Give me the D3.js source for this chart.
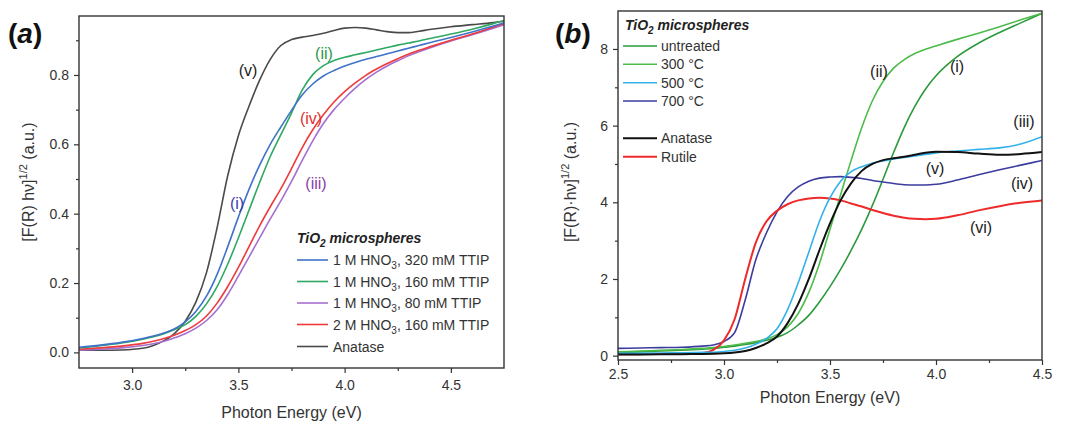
<!DOCTYPE html>
<html><head><meta charset="utf-8">
<script src="https://cdn.jsdelivr.net/npm/d3@7"></script>
<style>body{margin:0;background:#fff}svg{display:block;font-family:"Liberation Sans",Arial,sans-serif}</style>
</head><body><svg id="c" width="1069" height="423"></svg>
<script>
// ---------- Panel (a) data ----------
const energyA = [2.75,2.85,2.95,3.05,3.1,3.15,3.2,3.25,3.3,3.35,3.4,3.45,3.5,3.55,3.6,3.65,3.7,3.75,3.8,3.85,3.9,3.95,4.0,4.05,4.1,4.15,4.2,4.25,4.3,4.35,4.4,4.5,4.6,4.7,4.75];
const a_1M_320 = [0.015,0.021,0.029,0.04,0.047,0.056,0.068,0.088,0.118,0.162,0.225,0.305,0.39,0.47,0.54,0.6,0.65,0.698,0.742,0.774,0.797,0.813,0.826,0.836,0.845,0.853,0.861,0.869,0.877,0.885,0.893,0.908,0.924,0.941,0.95];
const a_1M_160 = [0.013,0.019,0.027,0.038,0.045,0.054,0.066,0.08,0.104,0.14,0.19,0.255,0.33,0.41,0.49,0.565,0.628,0.69,0.756,0.801,0.827,0.842,0.851,0.858,0.865,0.872,0.879,0.886,0.892,0.898,0.905,0.918,0.932,0.948,0.957];
const a_1M_80 = [0.006,0.009,0.013,0.02,0.025,0.032,0.042,0.054,0.07,0.092,0.123,0.167,0.22,0.275,0.33,0.385,0.437,0.493,0.553,0.61,0.66,0.7,0.733,0.762,0.787,0.808,0.826,0.841,0.855,0.867,0.878,0.898,0.916,0.935,0.945];
const a_2M_160 = [0.009,0.013,0.018,0.026,0.032,0.04,0.05,0.063,0.08,0.105,0.142,0.19,0.245,0.305,0.365,0.42,0.472,0.53,0.59,0.642,0.685,0.722,0.752,0.777,0.799,0.817,0.833,0.847,0.86,0.871,0.881,0.9,0.918,0.938,0.948];
const a_anatase = [0.006,0.006,0.007,0.012,0.02,0.034,0.055,0.09,0.145,0.23,0.36,0.51,0.625,0.71,0.785,0.845,0.885,0.902,0.909,0.914,0.92,0.928,0.935,0.937,0.935,0.93,0.925,0.922,0.922,0.926,0.931,0.939,0.945,0.951,0.955];
const legendA = ["1 M HNO|3|, 320 mM TTIP","1 M HNO|3|, 160 mM TTIP","1 M HNO|3|, 80 mM TTIP","2 M HNO|3|, 160 mM TTIP","Anatase"];
const xTicksA = [3.0,3.5,4.0,4.5];
const yTicksA = [0.0,0.2,0.4,0.6,0.8];
const labelsA = ["(i)","(ii)","(iii)","(iv)","(v)"];

// ---------- Panel (b) data ----------
const energyB = [2.5,2.6,2.7,2.8,2.9,2.95,3.0,3.05,3.1,3.15,3.2,3.25,3.3,3.35,3.4,3.45,3.5,3.55,3.6,3.65,3.7,3.75,3.8,3.85,3.9,3.95,4.0,4.1,4.2,4.3,4.4,4.5];
const b_untreated = [0.08,0.1,0.12,0.14,0.17,0.19,0.22,0.25,0.29,0.34,0.4,0.48,0.6,0.8,1.05,1.4,1.8,2.25,2.75,3.3,3.92,4.6,5.3,5.95,6.5,6.95,7.3,7.8,8.15,8.43,8.68,8.93];
const b_300 = [0.1,0.12,0.14,0.16,0.19,0.21,0.24,0.28,0.32,0.37,0.44,0.55,0.75,1.1,1.65,2.4,3.3,4.2,5.1,5.95,6.65,7.15,7.5,7.72,7.88,7.99,8.08,8.25,8.41,8.58,8.76,8.93];
const b_500 = [0.06,0.065,0.07,0.075,0.085,0.09,0.11,0.14,0.2,0.3,0.45,0.7,1.2,1.9,2.7,3.5,4.12,4.55,4.8,4.93,5.02,5.08,5.13,5.17,5.21,5.25,5.29,5.34,5.38,5.42,5.52,5.71];
const b_700 = [0.19,0.2,0.21,0.22,0.25,0.28,0.37,0.6,1.45,2.5,3.2,3.75,4.15,4.4,4.55,4.63,4.66,4.67,4.65,4.62,4.57,4.53,4.49,4.46,4.45,4.45,4.47,4.58,4.72,4.85,4.97,5.09];
const b_anatase = [0.03,0.03,0.035,0.04,0.045,0.05,0.06,0.08,0.12,0.2,0.32,0.5,0.85,1.35,2.0,2.75,3.45,4.05,4.5,4.82,5.0,5.1,5.15,5.19,5.24,5.29,5.32,5.31,5.27,5.24,5.26,5.31];
const b_rutile = [0.04,0.04,0.045,0.05,0.07,0.15,0.4,0.95,2.0,2.95,3.5,3.78,3.95,4.05,4.1,4.12,4.1,4.05,3.97,3.89,3.8,3.72,3.65,3.6,3.57,3.56,3.57,3.66,3.79,3.9,3.99,4.05];
const legendB = ["untreated","300 °C","500 °C","700 °C","Anatase","Rutile"];
const xTicksB = [2.5,3.0,3.5,4.0,4.5];
const yTicksB = [0,2,4,6,8];
const labelsB = ["(i)","(ii)","(iii)","(iv)","(v)","(vi)"];

const svg = d3.select("#c");
const FONT = '"Liberation Sans",Arial,sans-serif';

function addRich(textSel, str, subSize){
  const parts = str.split("|");
  parts.forEach((p,i)=>{
    if(!p) return;
    const t = textSel.append("tspan").text(p);
    if(i%2===1){ t.attr("font-size",subSize).attr("dy","4"); }
    else if(i>0){ t.attr("dy","-4"); }
  });
}

function panel(cfg){
  const g = svg.append("g");
  const x = d3.scaleLinear().domain(cfg.xDomain).range([cfg.left, cfg.right]);
  const y = d3.scaleLinear().domain(cfg.yDomain).range([cfg.bottom, cfg.top]);

  g.append("g").attr("transform",`translate(0,${cfg.bottom})`)
    .call(d3.axisBottom(x).tickValues(cfg.xMinor).tickSize(3).tickFormat(""))
    .call(s=>{s.select(".domain").remove(); s.selectAll("line").attr("stroke","#333").attr("stroke-width",1.2);});
  g.append("g").attr("transform",`translate(${cfg.left},0)`)
    .call(d3.axisLeft(y).tickValues(cfg.yMinor).tickSize(3).tickFormat(""))
    .call(s=>{s.select(".domain").remove(); s.selectAll("line").attr("stroke","#333").attr("stroke-width",1.2);});
  g.append("g").attr("transform",`translate(0,${cfg.bottom})`)
    .call(d3.axisBottom(x).tickValues(cfg.xTicks).tickSize(5).tickPadding(cfg.xPad).tickFormat(d3.format(".1f")))
    .call(s=>{s.select(".domain").remove(); s.selectAll("line").attr("stroke","#333").attr("stroke-width",1.2);
      s.selectAll("text").attr("font-size",14).attr("font-family",FONT).attr("fill","#333");});
  g.append("g").attr("transform",`translate(${cfg.left},0)`)
    .call(d3.axisLeft(y).tickValues(cfg.yTicks).tickSize(5).tickPadding(5).tickFormat(d3.format(cfg.yFmt)))
    .call(s=>{s.select(".domain").remove(); s.selectAll("line").attr("stroke","#333").attr("stroke-width",1.2);
      s.selectAll("text").attr("font-size",14).attr("font-family",FONT).attr("fill","#333");});

  const clipId = "clip"+cfg.id;
  g.append("clipPath").attr("id",clipId).append("rect")
    .attr("x",cfg.left).attr("y",cfg.top).attr("width",cfg.right-cfg.left).attr("height",cfg.bottom-cfg.top);
  const line = d3.line().x((d,i)=>x(cfg.energy[i])).y(d=>y(d)).curve(d3.curveMonotoneX);
  const cg = g.append("g").attr("clip-path",`url(#${clipId})`);
  cfg.drawOrder.forEach(k=>{
    cg.append("path").attr("d",line(cfg.series[k])).attr("fill","none")
      .attr("stroke",cfg.colors[k]).attr("stroke-width",cfg.lw[k]||1.6);
  });

  g.append("rect").attr("x",cfg.left).attr("y",cfg.top).attr("width",cfg.right-cfg.left).attr("height",cfg.bottom-cfg.top)
    .attr("fill","none").attr("stroke","#333").attr("stroke-width",1.4);

  g.append("text").attr("x",(cfg.left+cfg.right)/2).attr("y",cfg.xTitleY).attr("text-anchor","middle")
    .attr("font-size",16).attr("fill","#333").text("Photon Energy (eV)");
  const yt = g.append("text").attr("transform",`translate(${cfg.yTitleX},${cfg.yTitleY}) rotate(-90)`)
    .attr("text-anchor","middle").attr("font-size",16).attr("fill","#333");
  yt.append("tspan").text(cfg.yTitleMain);
  yt.append("tspan").attr("font-size",11).attr("dy",-7).text("1/2");
  yt.append("tspan").attr("dy",7).text(" (a.u.)");

  const pl = g.append("text").attr("x",cfg.plX).attr("y",cfg.plY).attr("font-size",28).attr("font-weight","bold").attr("fill","#111");
  pl.append("tspan").text("(");
  pl.append("tspan").attr("font-style","italic").text(cfg.letter);
  pl.append("tspan").text(")");

  const lg = g.append("g");
  const tt = lg.append("text").attr("x",cfg.leg.x).attr("y",cfg.leg.titleY).attr("font-size",14)
    .attr("font-weight","bold").attr("font-style","italic").attr("fill","#222");
  tt.append("tspan").text("TiO");
  tt.append("tspan").attr("font-size",10).attr("dy",4).text("2");
  tt.append("tspan").attr("dy",-4).text(" microspheres");
  cfg.legendText.forEach((s,i)=>{
    const yy = cfg.leg.rows[i];
    lg.append("line").attr("x1",cfg.leg.x1).attr("x2",cfg.leg.x2).attr("y1",yy).attr("y2",yy)
      .attr("stroke",cfg.colors[i]).attr("stroke-width",cfg.lw[i]||1.6);
    const t = lg.append("text").attr("x",cfg.leg.tx).attr("y",yy+5).attr("font-size",14).attr("fill","#333");
    addRich(t, s, 10);
  });

  cfg.labels.forEach((s,i)=>{
    const p = cfg.labelPos[i];
    g.append("text").attr("x",p[0]).attr("y",p[1]).attr("text-anchor","middle").attr("font-size",16)
      .attr("fill",cfg.labelColors[i]).text(s);
  });
}

panel({
  id:"a", letter:"a", plX:8, plY:43,
  left:79, right:504, top:16, bottom:368,
  xDomain:[2.75,4.75], yDomain:[-0.045,0.97],
  xTicks:xTicksA, yTicks:yTicksA, xMinor:[3.25,3.75,4.25], yMinor:[0.1,0.3,0.5,0.7,0.9],
  yFmt:".1f", xPad:7,
  energy:energyA,
  series:[a_1M_320,a_1M_160,a_1M_80,a_2M_160,a_anatase],
  colors:["#3f72c8","#2fa862","#a56fd0","#ee3b3b","#4a4a4a"],
  lw:[1.6,1.6,1.6,1.6,1.6],
  drawOrder:[4,2,3,1,0],
  xTitleY:418, yTitleX:34, yTitleY:182, yTitleMain:"[F(R) hν]",
  leg:{x:297,titleY:243,x1:297,x2:328,tx:333,rows:[260,281.5,303,324.5,346.5]},
  legendText:legendA,
  labels:labelsA,
  labelPos:[[237,209],[324,59],[316,189],[311,124],[248,76]],
  labelColors:["#3c3fa6","#2a9a4a","#8a3fa8","#e03030","#222"]
});

panel({
  id:"b", letter:"b", plX:555, plY:43,
  left:618, right:1042, top:11, bottom:360,
  xDomain:[2.5,4.5], yDomain:[-0.113,8.99],
  xTicks:xTicksB, yTicks:yTicksB, xMinor:[2.75,3.25,3.75,4.25], yMinor:[1,3,5,7],
  yFmt:"d", xPad:4,
  energy:energyB,
  series:[b_untreated,b_300,b_500,b_700,b_anatase,b_rutile],
  colors:["#2b9a3c","#4dbb4a","#33b1ea","#3c3c9e","#111111","#ee2a2a"],
  lw:[1.6,1.6,1.6,1.6,2.0,2.0],
  drawOrder:[0,1,3,5,2,4],
  xTitleY:403, yTitleX:576, yTitleY:182, yTitleMain:"[F(R)·hν]",
  leg:{x:625,titleY:30,x1:623,x2:657,tx:661,rows:[46,64.3,82.7,101,138.3,156.7]},
  legendText:legendB,
  labels:labelsB,
  labelPos:[[957,72],[879,77],[1024,127],[1022,189],[935,174],[981,233]],
  labelColors:["#222","#222","#222","#222","#222","#222"]
});
</script></body></html>
